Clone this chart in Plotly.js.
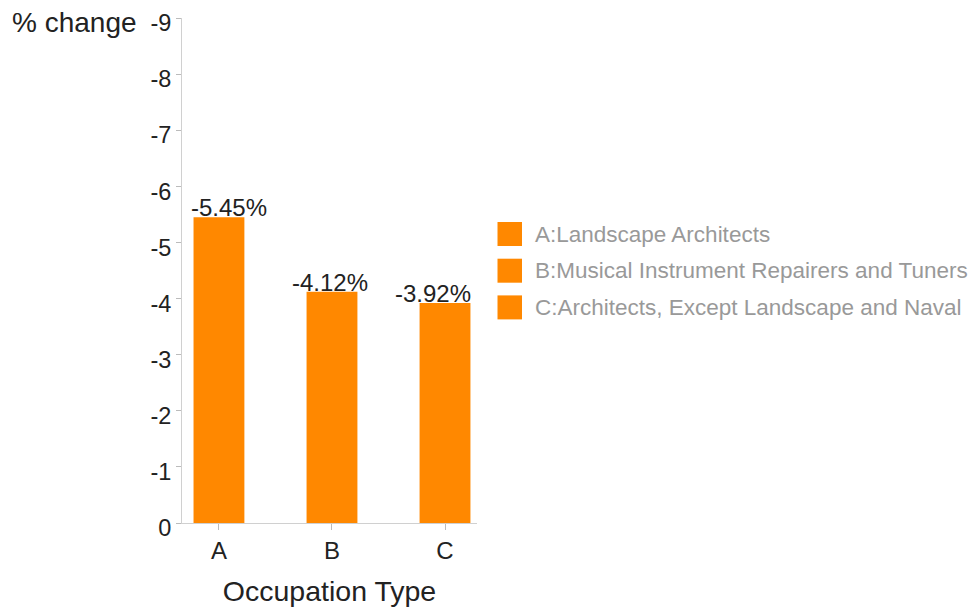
<!DOCTYPE html>
<html>
<head>
<meta charset="utf-8">
<script src="https://cdn.plot.ly/plotly-3.0.1.min.js"></script>
<style>html,body{margin:0;padding:0;background:#fff;}#chart{width:974px;height:615px;}</style>
</head>
<body>
<div id="chart"></div>
<script>
const categories = ["A", "B", "C"];
const values = [-5.45, -4.12, -3.92];
const valueLabels = ["-5.45%", "-4.12%", "-3.92%"];
const legendLabels = ["A:Landscape Architects", "B:Musical Instrument Repairers and Tuners", "C:Architects, Except Landscape and Naval"];
const yTicks = [0, -1, -2, -3, -4, -5, -6, -7, -8, -9];

const orange = "#ff8800";
const font = "Liberation Sans, Arial, sans-serif";
const labelShift = [10, -2, -12];

const trace = {
  type: "bar",
  x: categories,
  y: values,
  width: 0.45,
  marker: {color: orange},
  hoverinfo: "x+y",
  showlegend: false
};

const shapes = [];
const annotations = [];
categories.forEach((c, i) => {
  annotations.push({
    x: c, y: values[i], xref: "x", yref: "y",
    text: valueLabels[i], showarrow: false,
    xanchor: "center", yanchor: "bottom",
    xshift: labelShift[i], yshift: -6,
    font: {family: font, size: 24, color: "#222"}
  });
});
legendLabels.forEach((lab, i) => {
  const yc = 234 + i * 36.7;
  const yp = (615 - 92 - yc) / 505;
  shapes.push({
    type: "rect", xref: "paper", yref: "paper",
    x0: (497.5 - 182) / 295, x1: (522 - 182) / 295,
    y0: yp - 12 / 505, y1: yp + 12 / 505,
    fillcolor: orange, line: {width: 0}
  });
  annotations.push({
    xref: "paper", yref: "paper",
    x: (533 - 182) / 295, y: yp,
    xanchor: "left", yanchor: "middle",
    text: lab, showarrow: false,
    font: {family: font, size: 22.5, color: "#999"}
  });
});
annotations.push({
  xref: "paper", yref: "paper",
  x: (139 - 182) / 295, y: 1.0, yshift: -4,
  xanchor: "right", yanchor: "middle",
  text: "% change", showarrow: false,
  font: {family: font, size: 28, color: "#222"}
});

const layout = {
  width: 974, height: 615,
  margin: {l: 182, r: 497, t: 18, b: 92},
  paper_bgcolor: "#fff", plot_bgcolor: "#fff",
  font: {family: font, color: "#222"},
  showlegend: false,
  xaxis: {
    type: "category",
    range: [-0.327, 2.283],
    showline: true, linecolor: "#d0d0d0", linewidth: 1,
    ticks: "outside", ticklen: 6, tickcolor: "#bbb",
    tickfont: {family: font, size: 24, color: "#222"},
    showgrid: false, zeroline: false,
    title: {text: "Occupation Type", font: {family: font, size: 28.5, color: "#222"}, standoff: 18}
  },
  yaxis: {
    range: [0, -9],
    tickvals: yTicks,
    ticktext: yTicks.map(String),
    showline: true, linecolor: "#d0d0d0", linewidth: 1,
    ticks: "outside", ticklen: 5, tickcolor: "#bbb",
    tickfont: {family: font, size: 23.5, color: "#222"},
    ticklabelshift: -5,
    showgrid: false, zeroline: false
  },
  shapes: shapes,
  annotations: annotations
};

Plotly.newPlot("chart", [trace], layout, {displayModeBar: false, staticPlot: true});
</script>
</body>
</html>
